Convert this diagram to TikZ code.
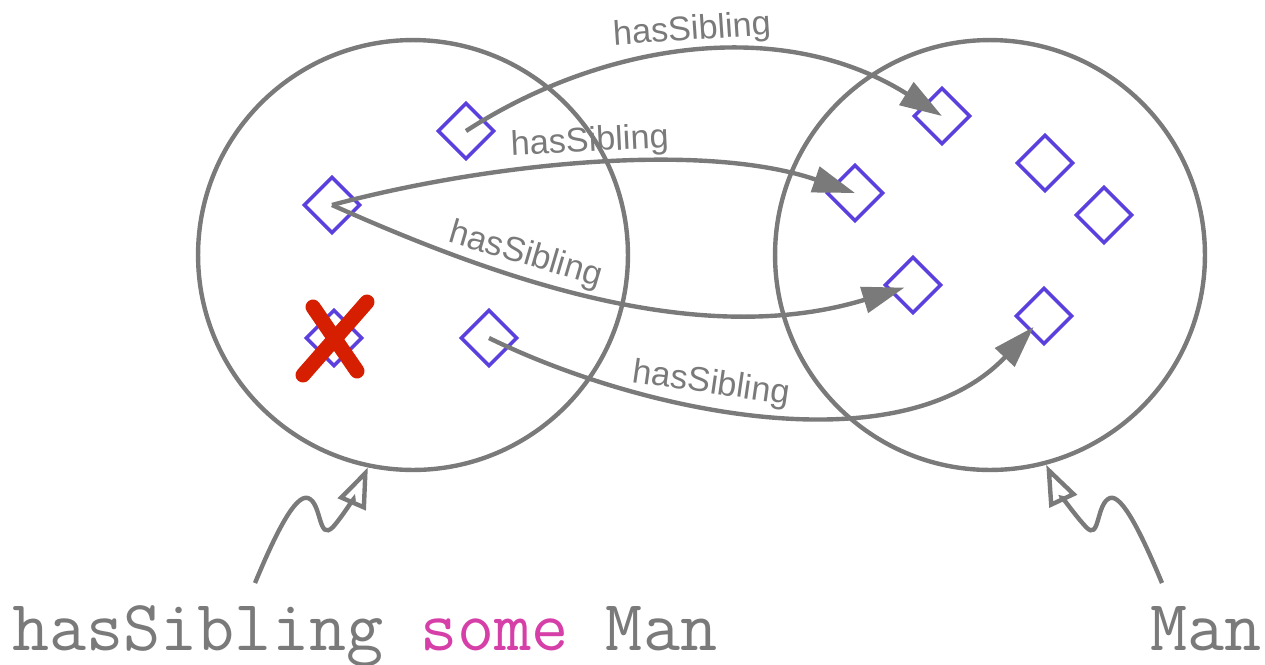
\documentclass[tikz,border=0pt]{standalone}
\usepackage{fontspec}
\setmainfont{Liberation Sans}
\usetikzlibrary{arrows.meta}

\definecolor{linegray}{HTML}{7A7A7A}
\definecolor{itemblue}{HTML}{5B40DE}
\definecolor{somepink}{HTML}{D63FA8}
\definecolor{crossred}{HTML}{D61E00}

\begin{document}
\begin{tikzpicture}[x=0.02cm,y=-0.02cm,
  cls/.style={draw=linegray,line width=2.5pt,circle,minimum size=8.6cm,inner sep=0pt},
  item/.style={draw=itemblue,line width=2pt,rotate=45,minimum size=0.78cm,inner sep=0pt},
  rel/.style={draw=linegray,line width=2.5pt,-{Triangle[length=24pt,width=15pt]}},
  lbl/.style={text=linegray,font=\fontsize{19.5}{22}\selectfont,inner sep=2pt},
  super/.style={draw=linegray,line width=2.5pt,-{Triangle[open,length=23pt,width=17pt]}},
  expr/.style={text=linegray,font=\ttfamily\fontsize{41}{45}\selectfont,inner sep=0pt}]
\useasboundingbox (0,0) rectangle (1265,664);

% the two classes
\node[cls] (smcls) at (413,255) {};
\node[cls] (mancls) at (990,255) {};

% individuals
\node[item] (in1) at (466,131) {};
\node[item] (in2) at (332,205) {};
\node[item] (in3) at (334,338) {};
\node[item] (in4) at (489,338) {};

\node[item] (man1) at (942,116) {};
\node[item] (man2) at (855,193) {};
\node[item] (man3) at (1045,163) {};
\node[item] (man4) at (1104,215) {};
\node[item] (man5) at (913,285) {};
\node[item] (man6) at (1044,316) {};

% not a member
\draw[crossred,line width=0.3cm,line cap=round] (303,375) -- (367,302);
\draw[crossred,line width=0.3cm,line cap=round] (313,307) -- (357,371);

% hasSibling links
\draw[rel] (in1.center) .. controls (600,44) and (780,14) .. (man1.center)
  node[lbl,pos=0.5,sloped,above] (l1) {hasSibling};
\draw[rel] (in2.center) .. controls (480,165) and (700,140) .. (man2.center)
  node[lbl,pos=0.5,sloped,above] (l2) {hasSibling};
\draw[rel,shorten >=0.18cm] (in2.center) .. controls (500,280) and (700,350) .. (man5.center)
  node[lbl,pos=0.35,sloped,above] (l3) {hasSibling};
\draw[rel,shorten >=0.3cm] (in4.center) .. controls (640,412) and (900,468) .. (man6.center)
  node[lbl,pos=0.4,sloped,above] (l4) {hasSibling};

% class expressions
\node[expr,anchor=base west] (smexpr) at (12,650) {hasSibling \textcolor{somepink}{some} Man};
\node[expr,anchor=base east] (manexpr) at (1262,650) {Man};

\draw[super] (255,583) coordinate (smfoot) .. controls (275,535) and (295,494) .. (308,498)
  .. controls (322,503) and (318,542) .. (333,527) .. controls (346,512) and (358,490) .. (smcls.258);
\draw[super] (1162,583) coordinate (manfoot) .. controls (1142,535) and (1122,494) .. (1110,498)
  .. controls (1096,503) and (1100,542) .. (1086,527) .. controls (1072,512) and (1058,490) .. (mancls.285);

\end{tikzpicture}
\end{document}
